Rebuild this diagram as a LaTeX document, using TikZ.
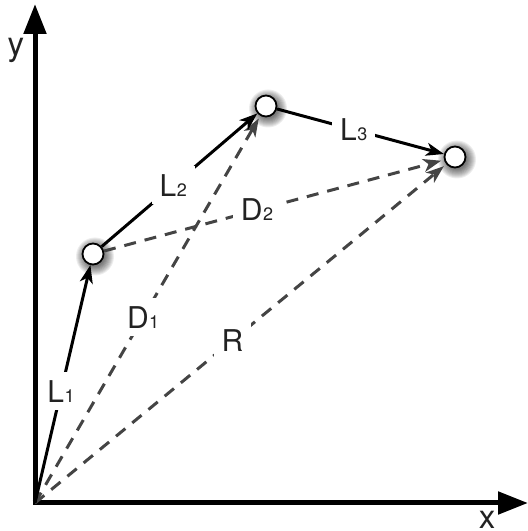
\documentclass[tikz,border=0pt]{standalone}
\usepackage{fontspec}
\setmainfont{TeX Gyre Heros}
\usetikzlibrary{arrows.meta}
\definecolor{txt}{HTML}{222222}
\definecolor{dash}{HTML}{444444}
\newcommand{\lbl}[2]{#1\kern0.5pt{\fontsize{18}{18}\selectfont #2}}
\tikzset{
  axis/.style={line width=5pt, -{Triangle[length=30pt,width=22pt]}},
  solidarrow/.style={line width=3pt, -{Stealth[length=18pt,width=13pt,inset=5pt]}},
  dasharrow/.style={line width=3pt, color=dash, dash pattern=on 12pt off 9pt, shorten >=3pt, -{Stealth[length=18pt,width=13pt,inset=5pt]}},
  lab/.style={fill=white, inner sep=8pt, text=txt, font=\fontsize{30}{34}\selectfont},
  axlab/.style={text=txt, inner sep=0pt, font=\fontsize{33}{36}\selectfont},
  pointnode/.style={circle, draw=black, line width=1.8pt, fill=white, minimum size=21pt, inner sep=0pt},
}
\begin{document}
\begin{tikzpicture}[x=1pt,y=1pt]
\useasboundingbox (0,0) rectangle (528,531);
\coordinate (o) at (35,28);
\coordinate (ytip) at (35,527);
\coordinate (xtip) at (528,28);
\coordinate (c1) at (93,277);
\coordinate (c2) at (266,425);
\coordinate (c3) at (455,374);
% shadows
\foreach \c in {c1,c2,c3}{
  \foreach \r in {10,11,...,19}{
    \fill[black, opacity=0.07] ([shift={(2,-2.5)}]\c) circle (\r);
  }
}
\node[pointnode] (p1) at (c1) {};
\node[pointnode] (p2) at (c2) {};
\node[pointnode] (p3) at (c3) {};
% axes
\draw[axis] (o) -- (ytip);
\draw[axis] ([xshift=-2.5pt]o) -- (xtip);
\node[axlab] (ylab) at (16,481) {y};
\node[axlab, anchor=south] (xlab) at (487,2) {x};
% dashed
\draw[dasharrow] (o) -- (p2) node[lab, pos=0.48] (d1) {\lbl{D}{1}};
\draw[dasharrow] (p1) -- (p3) node[lab, pos=0.45] (d2) {\lbl{D}{2}};
\draw[dasharrow] (o) -- (p3) node[lab, pos=0.48] (r) {R};
% solid
\draw[solidarrow] (o) -- (p1) node[lab, pos=0.47] (l1) {\lbl{L}{1}};
\draw[solidarrow] (p1) -- (p2) node[lab, pos=0.46] (l2) {\lbl{L}{2}};
\draw[solidarrow] (p2) -- (p3) node[lab, pos=0.46] (l3) {\lbl{L}{3}};
\end{tikzpicture}
\end{document}
